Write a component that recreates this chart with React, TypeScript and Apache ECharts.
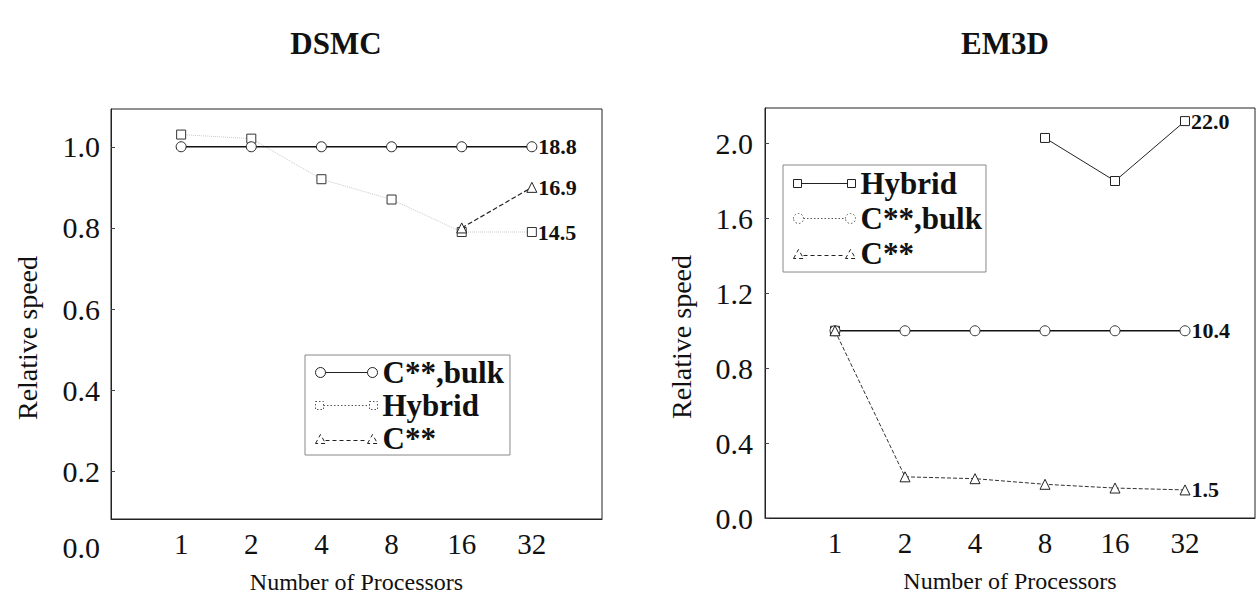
import React, { useEffect, useRef } from "react";
import * as echarts from "echarts";

const processors = ["1", "2", "4", "8", "16", "32"];
const xPos = [1, 2, 3, 4, 5, 6];

// DSMC (left)
const dsmcBulk = [1.0, 1.0, 1.0, 1.0, 1.0, 1.0];
const dsmcHybrid = [1.03, 1.02, 0.92, 0.87, 0.79, 0.79];
const dsmcCstar = [null, null, null, null, 0.8, 0.9];
const dsmcEndLabels = { bulk: "18.8", hybrid: "14.5", cstar: "16.9" };

// EM3D (right)
const em3dHybrid = [1.0, null, null, 2.03, 1.8, 2.12];
const em3dBulk = [1.0, 1.0, 1.0, 1.0, 1.0, 1.0];
const em3dCstar = [1.0, 0.22, 0.21, 0.18, 0.16, 0.15];
const em3dEndLabels = { hybrid: "22.0", bulk: "10.4", cstar: "1.5" };

const leftTicks = [0.2, 0.4, 0.6, 0.8, 1.0];
const rightTicks = [0, 0.4, 0.8, 1.2, 1.6, 2.0];

const FONT = "'Liberation Serif', 'Times New Roman', serif";

// legend icons: marker, connecting line, marker (62 x 10 box)
const ICON_CIRCLE =
  "path://M0,5A5,5,0,1,1,10,5A5,5,0,1,1,0,5ZM10,5L52,5M52,5A5,5,0,1,1,62,5A5,5,0,1,1,52,5Z";
const ICON_RECT = "path://M0,1L8,1L8,9L0,9ZM8,5L54,5M54,1L62,1L62,9L54,9ZM0,0M62,10";
const ICON_TRI = "path://M0,10L5,1L10,10ZM10,7L52,7M52,10L57,1L62,10ZM0,0";

function buildData(vals: (number | null)[], endLabel: string) {
  return vals.map((v, i) => {
    const isLast = i === vals.length - 1;
    return {
      value: [xPos[i], v],
      label: isLast
        ? {
            show: true,
            position: "right",
            distance: 1,
            formatter: endLabel,
            fontFamily: FONT,
            fontWeight: "bold",
            fontSize: 22,
            color: "#111",
          }
        : { show: false },
    };
  });
}

const yTickText = { fontFamily: FONT, fontSize: 30, color: "#111" };
const xTickText = { fontFamily: FONT, fontSize: 29, color: "#111" };
const xNameText = { fontFamily: FONT, fontSize: 24, color: "#111" };
// extra right padding shifts the rotated name slightly downward along the axis
const yNameText = { fontFamily: FONT, fontSize: 28, color: "#111", padding: [0, 48, 0, 0] };

export default function App() {
  const ref = useRef<HTMLDivElement>(null);
  useEffect(() => {
    if (!ref.current) return;
    const chart = echarts.init(ref.current, null, { renderer: "svg" });

    const xAxisBase = {
      type: "value",
      min: 0,
      max: 7,
      interval: 1,
      axisLine: { show: true, lineStyle: { color: "#222", width: 1 } },
      axisTick: { show: false },
      splitLine: { show: false },
      axisLabel: {
        ...xTickText,
        margin: 10,
        formatter: (v: number) => processors[v - 1] ?? "",
      },
      name: "Number of Processors",
      nameLocation: "middle",
      nameGap: 51,
      nameTextStyle: xNameText,
    };

    const hollow = (color: string) => ({ color: "#fff", borderColor: color, borderWidth: 1 });
    const iconStyle = (color: string, type: any) => ({
      color: "#fff",
      borderColor: color,
      borderWidth: 1,
      borderType: type,
    });

    const legendText = { fontFamily: FONT, fontWeight: "bold", fontSize: 31, color: "#111" };

    const option: any = {
      animation: false,
      backgroundColor: "#fff",
      textStyle: { fontFamily: FONT, fontSize: 28, color: "#111" },
      title: [
        {
          text: "DSMC",
          left: 331,
          top: 23,
          textAlign: "center",
          textStyle: { fontFamily: FONT, fontWeight: "bold", fontSize: 31, color: "#111" },
        },
        {
          text: "EM3D",
          left: 1000,
          top: 23,
          textAlign: "center",
          textStyle: { fontFamily: FONT, fontWeight: "bold", fontSize: 31, color: "#111" },
        },
      ],
      grid: [
        { left: 111, top: 109, width: 491, height: 411, show: true, borderColor: "#222", borderWidth: 1, backgroundColor: "transparent" },
        { left: 765, top: 108, width: 494, height: 410, show: true, borderColor: "#222", borderWidth: 1, backgroundColor: "transparent" },
      ],
      xAxis: [
        { ...xAxisBase, gridIndex: 0 },
        { ...xAxisBase, gridIndex: 1 },
      ],
      yAxis: [
        {
          type: "value",
          gridIndex: 0,
          min: 0.083,
          max: 1.093,
          axisLine: { show: true, lineStyle: { color: "#222" } },
          axisTick: { show: true, inside: true, length: 4, customValues: leftTicks, lineStyle: { color: "#444" } },
          splitLine: { show: false },
          axisLabel: {
            ...yTickText,
            customValues: leftTicks,
            margin: 11,
            formatter: (v: number) => v.toFixed(1),
          },
          name: "Relative speed",
          nameLocation: "middle",
          nameGap: 70,
          nameTextStyle: yNameText,
        },
        {
          type: "value",
          gridIndex: 1,
          min: 0,
          max: 2.19,
          axisLine: { show: true, lineStyle: { color: "#222" } },
          axisTick: { show: true, inside: true, length: 4, customValues: rightTicks, lineStyle: { color: "#444" } },
          splitLine: { show: false },
          axisLabel: {
            ...yTickText,
            customValues: rightTicks,
            margin: 12,
            formatter: (v: number) => v.toFixed(1),
          },
          name: "Relative speed",
          nameLocation: "middle",
          nameGap: 70,
          nameTextStyle: yNameText,
        },
      ],
      legend: [
        {
          orient: "vertical",
          left: 305,
          top: 355,
          padding: [2, 6, 1, 10],
          itemGap: 2,
          itemWidth: 62,
          itemHeight: 10,
          borderColor: "#888",
          borderWidth: 1,
          backgroundColor: "#fff",
          textStyle: legendText,
          data: [
            { name: "C**,bulk", icon: ICON_CIRCLE, itemStyle: iconStyle("#222", "solid") },
            { name: "Hybrid", icon: ICON_RECT, itemStyle: iconStyle("#555", [1.5, 2]) },
            { name: "C**", icon: ICON_TRI, itemStyle: iconStyle("#222", [4, 3]) },
          ],
        },
        {
          orient: "vertical",
          left: 783,
          top: 165,
          padding: [3, 4, 3, 10],
          itemGap: 4,
          itemWidth: 62,
          itemHeight: 10,
          borderColor: "#888",
          borderWidth: 1,
          backgroundColor: "#fff",
          textStyle: legendText,
          data: [
            { name: "Hybrid", icon: ICON_RECT, itemStyle: iconStyle("#222", "solid") },
            { name: "C**,bulk", icon: ICON_CIRCLE, itemStyle: iconStyle("#555", [1.5, 2]) },
            { name: "C**", icon: ICON_TRI, itemStyle: iconStyle("#222", [4, 3]) },
          ],
        },
      ],
      graphic: [
        {
          type: "text",
          x: 100,
          y: 547,
          style: {
            text: "0.0",
            fontFamily: FONT,
            fontSize: 30,
            fill: "#111",
            align: "right",
            verticalAlign: "middle",
          },
        },
      ],
      series: [
        // left
        {
          name: "Hybrid",
          type: "line",
          xAxisIndex: 0,
          yAxisIndex: 0,
          data: buildData(dsmcHybrid, dsmcEndLabels.hybrid),
          symbol: "rect",
          symbolSize: 9,
          itemStyle: hollow("#333"),
          lineStyle: { color: "#c8c8c8", type: "dotted", width: 1 },
          z: 2,
        },
        {
          name: "C**,bulk",
          type: "line",
          xAxisIndex: 0,
          yAxisIndex: 0,
          data: buildData(dsmcBulk, dsmcEndLabels.bulk),
          symbol: "circle",
          symbolSize: 10,
          itemStyle: hollow("#222"),
          lineStyle: { color: "#111", type: "solid", width: 1.5 },
          z: 3,
        },
        {
          name: "C**",
          type: "line",
          xAxisIndex: 0,
          yAxisIndex: 0,
          data: buildData(dsmcCstar, dsmcEndLabels.cstar),
          symbol: "triangle",
          symbolSize: 10,
          itemStyle: hollow("#222"),
          lineStyle: { color: "#222", type: "dashed", width: 1.2 },
          z: 4,
        },
        // right
        {
          name: "Hybrid",
          type: "line",
          xAxisIndex: 1,
          yAxisIndex: 1,
          data: buildData(em3dHybrid, em3dEndLabels.hybrid),
          symbol: "rect",
          symbolSize: 9,
          itemStyle: hollow("#222"),
          lineStyle: { color: "#222", type: "solid", width: 1 },
          z: 2,
        },
        {
          name: "C**,bulk",
          type: "line",
          xAxisIndex: 1,
          yAxisIndex: 1,
          data: buildData(em3dBulk, em3dEndLabels.bulk),
          symbol: "circle",
          symbolSize: 10,
          itemStyle: hollow("#333"),
          lineStyle: { color: "#111", type: "solid", width: 1.5 },
          z: 3,
        },
        {
          name: "C**",
          type: "line",
          xAxisIndex: 1,
          yAxisIndex: 1,
          data: buildData(em3dCstar, em3dEndLabels.cstar),
          symbol: "triangle",
          symbolSize: 10,
          itemStyle: hollow("#222"),
          lineStyle: { color: "#333", type: "dashed", width: 1 },
          z: 4,
        },
      ],
    };

    chart.setOption(option);
    return () => chart.dispose();
  }, []);

  return (
    <div
      ref={ref}
      style={{ position: "fixed", left: 0, top: 0, width: 1258, height: 599, background: "#fff" }}
    />
  );
}
